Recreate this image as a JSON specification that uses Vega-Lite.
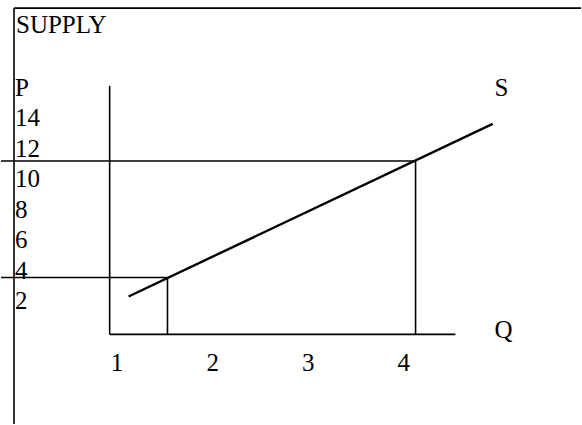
{
  "$schema": "https://vega.github.io/schema/vega-lite/v6.json",
  "width": 582,
  "height": 425,
  "padding": 0,
  "autosize": {"type": "fit", "contains": "padding"},
  "background": "white",
  "config": {"view": {"stroke": null}},
  "datasets": {
    "segments": [
      {"name": "frame left", "q1": -0.079, "p1": 21.73, "q2": -0.079, "p2": -5.5},
      {"name": "frame top", "q1": -0.079, "p1": 21.73, "q2": 5.854, "p2": 21.73},
      {"name": "P axis", "q1": 0.922, "p1": 16.64, "q2": 0.922, "p2": 0.37},
      {"name": "Q axis", "q1": 0.922, "p1": 0.37, "q2": 4.54, "p2": 0.37},
      {"name": "high price", "q1": -0.215, "p1": 11.72, "q2": 4.123, "p2": 11.72},
      {"name": "low price", "q1": -0.215, "p1": 4.09, "q2": 1.527, "p2": 4.09},
      {"name": "low quantity", "q1": 1.527, "p1": 4.09, "q2": 1.527, "p2": 0.37},
      {"name": "high quantity", "q1": 4.123, "p1": 11.72, "q2": 4.123, "p2": 0.37}
    ],
    "supply": [
      {"q": 1.12, "p": 2.85},
      {"q": 4.93, "p": 14.15}
    ],
    "leftLabels": [
      {"q": -0.058, "p": 20.1, "text": "SUPPLY"},
      {"q": -0.069, "p": 16, "text": "P"},
      {"q": -0.069, "p": 14, "text": "14"},
      {"q": -0.069, "p": 12, "text": "12"},
      {"q": -0.069, "p": 10, "text": "10"},
      {"q": -0.069, "p": 8, "text": "8"},
      {"q": -0.069, "p": 6, "text": "6"},
      {"q": -0.069, "p": 4, "text": "4"},
      {"q": -0.069, "p": 2, "text": "2"},
      {"q": 4.95, "p": 16, "text": "S"},
      {"q": 4.95, "p": 0.1, "text": "Q"}
    ],
    "qLabels": [
      {"q": 1, "p": -2.05, "text": "1"},
      {"q": 2, "p": -2.05, "text": "2"},
      {"q": 3, "p": -2.05, "text": "3"},
      {"q": 4, "p": -2.05, "text": "4"}
    ]
  },
  "layer": [
    {
      "data": {"name": "segments"},
      "mark": {"type": "rule", "color": "black", "strokeWidth": 1.6},
      "encoding": {
        "x": {"field": "q1", "type": "quantitative", "scale": {"domain": [-0.215, 5.854], "nice": false, "zero": false}, "axis": null},
        "x2": {"field": "q2"},
        "y": {"field": "p1", "type": "quantitative", "scale": {"domain": [-5.5, 22.26], "nice": false, "zero": false}, "axis": null},
        "y2": {"field": "p2"}
      }
    },
    {
      "data": {"name": "supply"},
      "mark": {"type": "line", "color": "black", "strokeWidth": 2.4},
      "encoding": {
        "x": {"field": "q", "type": "quantitative"},
        "y": {"field": "p", "type": "quantitative"}
      }
    },
    {
      "data": {"name": "leftLabels"},
      "mark": {"type": "text", "font": "Liberation Serif", "fontSize": 25, "align": "left", "baseline": "alphabetic", "color": "black"},
      "encoding": {
        "x": {"field": "q", "type": "quantitative"},
        "y": {"field": "p", "type": "quantitative"},
        "text": {"field": "text"}
      }
    },
    {
      "data": {"name": "qLabels"},
      "mark": {"type": "text", "font": "Liberation Serif", "fontSize": 25, "align": "center", "baseline": "alphabetic", "color": "black"},
      "encoding": {
        "x": {"field": "q", "type": "quantitative"},
        "y": {"field": "p", "type": "quantitative"},
        "text": {"field": "text"}
      }
    }
  ]
}
